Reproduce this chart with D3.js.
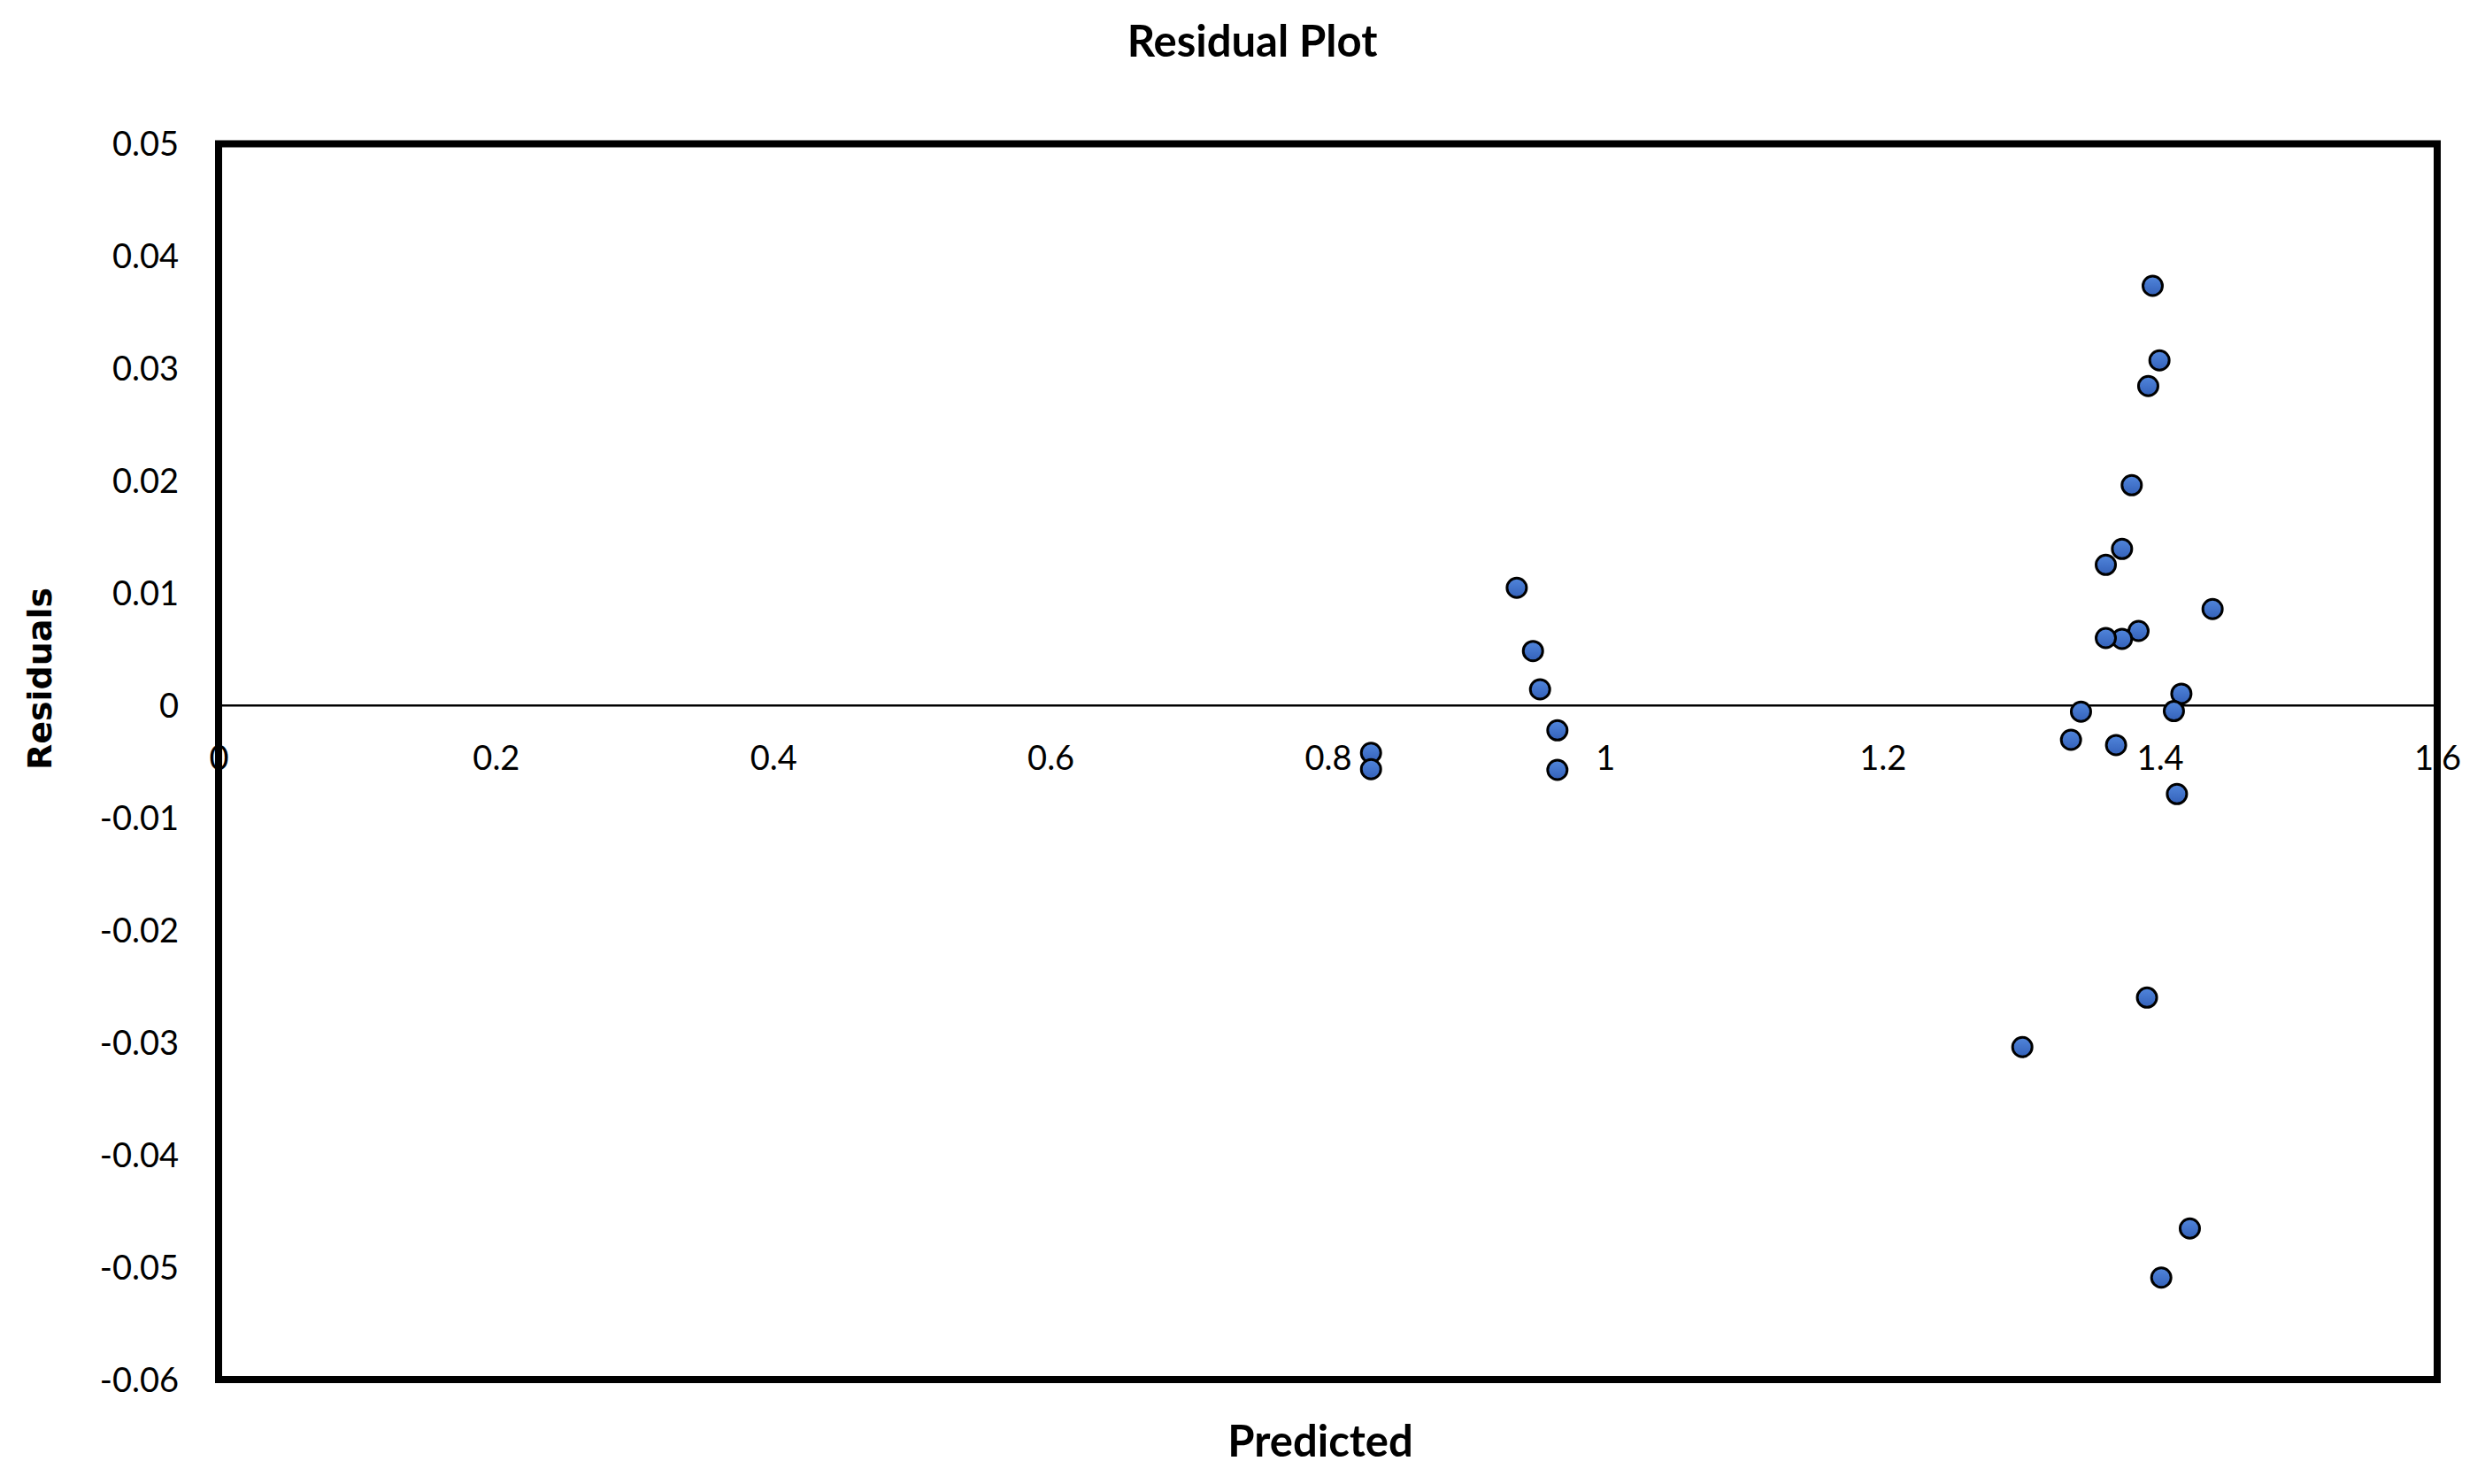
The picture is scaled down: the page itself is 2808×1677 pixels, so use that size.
<!DOCTYPE html>
<html>
<head>
<meta charset="utf-8">
<script src="https://cdn.jsdelivr.net/npm/d3@7"></script>
<style>
  html, body { margin: 0; padding: 0; background: #fff; }
  svg { display: block; }
</style>
</head>
<body>
<script>
// ---- data ----
const predicted = [
  0.9362, 0.9479, 0.9530, 0.9655, 0.9655, 0.8311, 0.8311,
  1.3948, 1.3997, 1.3916, 1.3797, 1.3727, 1.3610, 1.4380, 1.3846, 1.3727, 1.3610,
  1.4155, 1.4101, 1.3431, 1.3359, 1.3684, 1.4123,
  1.3907, 1.3008, 1.4216, 1.4010
];
const residuals = [
  0.01048, 0.00485, 0.00144, -0.00221, -0.00573, -0.00421, -0.00567,
  0.03736, 0.03072, 0.02844, 0.01961, 0.01394, 0.01252, 0.00859, 0.00664, 0.00593, 0.00601,
  0.00105, -0.00050, -0.00055, -0.00305, -0.00352, -0.00788,
  -0.02600, -0.03040, -0.04655, -0.05092
];
const xTicks = [0, 0.2, 0.4, 0.6, 0.8, 1, 1.2, 1.4, 1.6];
const xTickLabels = ["0", "0.2", "0.4", "0.6", "0.8", "1", "1.2", "1.4", "1.6"];
const yTicks = [0.05, 0.04, 0.03, 0.02, 0.01, 0, -0.01, -0.02, -0.03, -0.04, -0.05, -0.06];
const yTickLabels = ["0.05", "0.04", "0.03", "0.02", "0.01", "0", "-0.01", "-0.02", "-0.03", "-0.04", "-0.05", "-0.06"];
const titleText = "Residual Plot";
const xTitle = "Predicted";
const yTitle = "Residuals";

(function () {
// ---- layout ----
const W = 2808, H = 1677;
const pLeft = 247, pRight = 2754, pTop = 162.5, pBottom = 1559;

const svg = d3.select("body").append("svg").attr("width", W).attr("height", H);

const defs = svg.append("defs");
const grad = defs.append("linearGradient").attr("id", "dotFill")
  .attr("x1", 0).attr("y1", 0).attr("x2", 0).attr("y2", 1);
grad.append("stop").attr("offset", "0%").attr("stop-color", "#5186DC");
grad.append("stop").attr("offset", "100%").attr("stop-color", "#3461B9");

const x = d3.scaleLinear().domain([0, 1.6]).range([pLeft, pRight]);
const y = d3.scaleLinear().domain([-0.06, 0.05]).range([pBottom, pTop]);

const tickFont = "Lato, 'Open Sans', sans-serif";

// y tick labels
const yAxis = d3.axisLeft(y).tickValues(yTicks)
  .tickFormat((d, i) => yTickLabels[i]).tickSize(0).tickPadding(0);
const yg = svg.append("g").attr("transform", `translate(${pLeft - 45},0)`).call(yAxis);
yg.select(".domain").remove();
yg.selectAll("text").attr("font-family", tickFont).attr("font-size", 38)
  .attr("fill", "#000").attr("dy", "0.35em");

// x tick labels (sit just under the zero line)
const xAxis = d3.axisBottom(x).tickValues(xTicks)
  .tickFormat((d, i) => xTickLabels[i]).tickSize(0).tickPadding(0);
const xg = svg.append("g").attr("transform", `translate(0,${y(0)})`).call(xAxis);
xg.select(".domain").remove();
xg.selectAll("text").attr("font-family", tickFont).attr("font-size", 38)
  .attr("fill", "#000").attr("dy", null).attr("y", 72.5);

// zero line
svg.append("line")
  .attr("x1", pLeft).attr("x2", pRight)
  .attr("y1", y(0)).attr("y2", y(0))
  .attr("stroke", "#000").attr("stroke-width", 2.7);

// frame
svg.append("rect")
  .attr("x", pLeft).attr("y", pTop)
  .attr("width", pRight - pLeft).attr("height", pBottom - pTop)
  .attr("fill", "none").attr("stroke", "#000").attr("stroke-width", 8);

// points
const pts = predicted.map((p, i) => ({ p, r: residuals[i] }));
svg.append("g").selectAll("circle").data(pts).join("circle")
  .attr("cx", d => x(d.p)).attr("cy", d => y(d.r)).attr("r", 11)
  .attr("fill", "url(#dotFill)").attr("stroke", "#000").attr("stroke-width", 3);

// titles
svg.append("text").attr("x", 1415).attr("y", 64)
  .attr("text-anchor", "middle").attr("font-family", tickFont)
  .attr("font-weight", "bold").attr("font-size", 49).text(titleText);

svg.append("text").attr("x", 1492).attr("y", 1646)
  .attr("text-anchor", "middle").attr("font-family", tickFont)
  .attr("font-weight", "bold").attr("font-size", 49).text(xTitle);

svg.append("text")
  .attr("transform", `translate(58,767) rotate(-90)`)
  .attr("text-anchor", "middle").attr("font-family", "'DejaVu Sans', sans-serif")
  .attr("font-weight", "bold").attr("font-size", 38).text(yTitle);
})();
</script>
</body>
</html>
